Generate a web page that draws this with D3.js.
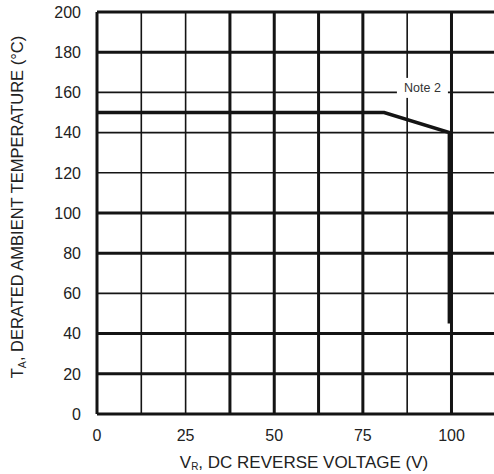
<!DOCTYPE html>
<html>
<head>
<meta charset="utf-8">
<script src="https://cdn.jsdelivr.net/npm/d3@7"></script>
<style>
  body { margin: 0; background: #fff; }
  svg { display: block; font-family: "Liberation Sans", Arial, sans-serif; }
</style>
</head>
<body>
<svg id="chart" width="494" height="474"></svg>
<script>
// Data
const xTicks = [0, 25, 50, 75, 100];
const yTicks = [0, 20, 40, 60, 80, 100, 120, 140, 160, 180, 200];
const xGrid = [0, 12.5, 25, 37.5, 50, 62.5, 75, 87.5, 100];
const yGrid = [0, 20, 40, 60, 80, 100, 120, 140, 160, 180, 200];
// derating curve: V_R (V), T_A (°C)
const curveV = [0, 81, 99.4, 99.4];
const curveT = [150, 150, 140, 45];
const noteLabel = "Note 2";

// the scanned grid has heavier lines at these values
const heavyX = [0, 37.5, 50, 62.5, 75, 100];
const heavyY = [0, 20, 40, 80, 100, 180, 200];

const svg = d3.select("#chart");
const ink = "#141414";

const x = d3.scaleLinear().domain([0, 112.5]).range([97, 495.8]);
const y = d3.scaleLinear().domain([0, 200]).range([414, 12]);

// grid
const grid = svg.append("g");
grid.selectAll(".vg").data(xGrid).join("line")
  .attr("x1", d => x(d)).attr("x2", d => x(d))
  .attr("y1", y(0)).attr("y2", y(200))
  .attr("stroke", ink)
  .attr("stroke-width", d => heavyX.includes(d) ? 3 : 1.6);

grid.selectAll(".hg").data(yGrid).join("line")
  .attr("x1", x(0)).attr("x2", x(112.5))
  .attr("y1", d => y(d)).attr("y2", d => y(d))
  .attr("stroke", ink)
  .attr("stroke-width", d => heavyY.includes(d) ? 3 : 1.6);

// curve
const curve = curveV.map((v, i) => [v, curveT[i]]);
svg.append("path")
  .datum(curve)
  .attr("d", d3.line().x(d => x(d[0])).y(d => y(d[1])))
  .attr("fill", "none")
  .attr("stroke", ink)
  .attr("stroke-width", 3.5)
  .attr("stroke-linejoin", "miter");

// note label with white backing
const note = svg.append("g").attr("transform", `translate(${x(91.8)}, ${y(160)})`);
note.append("rect")
  .attr("x", -25.5).attr("y", -14.5).attr("width", 51).attr("height", 20)
  .attr("fill", "#fff");
note.append("text")
  .attr("text-anchor", "middle")
  .attr("y", -5)
  .attr("dy", "0.35em")
  .attr("font-size", 12.5)
  .attr("fill", "#333")
  .text(noteLabel);

// tick labels
svg.append("g").selectAll("text").data(xTicks).join("text")
  .attr("x", d => x(d)).attr("y", 441)
  .attr("text-anchor", "middle")
  .attr("font-size", 16)
  .attr("fill", "#222")
  .text(d => d);

svg.append("g").selectAll("text").data(yTicks).join("text")
  .attr("x", 81).attr("y", d => y(d))
  .attr("dy", "0.36em")
  .attr("text-anchor", "end")
  .attr("font-size", 16)
  .attr("fill", "#222")
  .text(d => d);

// axis titles
const xt = svg.append("text")
  .attr("x", 304).attr("y", 468)
  .attr("text-anchor", "middle")
  .attr("font-size", 17)
  .attr("fill", "#222");
xt.append("tspan").text("V");
xt.append("tspan").attr("font-size", 10).attr("dy", 2).text("R");
xt.append("tspan").attr("dy", -2).text(", DC REVERSE VOLTAGE (V)");

const yt = svg.append("text")
  .attr("transform", "translate(23, 207) rotate(-90)")
  .attr("text-anchor", "middle")
  .attr("font-size", 16.5)
  .attr("fill", "#222");
yt.append("tspan").text("T");
yt.append("tspan").attr("font-size", 10.5).attr("dy", 3).text("A");
yt.append("tspan").attr("dy", -3).text(", DERATED AMBIENT TEMPERATURE (°C)");
</script>
</body>
</html>
